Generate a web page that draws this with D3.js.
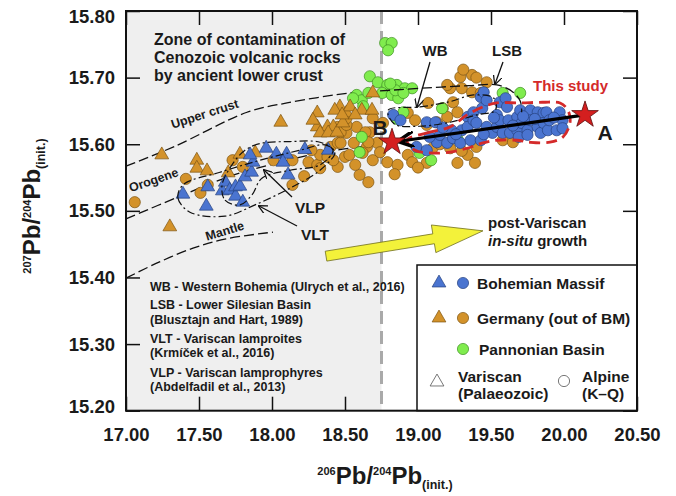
<!DOCTYPE html>
<html>
<head>
<meta charset="utf-8">
<style>
    body { margin: 0; background-color: #FFF; }
    svg text { font-family: "Liberation Sans", Arial, sans-serif; font-weight: bold; fill: #1a1a1a; }
</style>
</head>
<body>
<div id="chartArea"></div>
<script src="https://d3js.org/d3.v7.min.js"></script>
<script>
    /* -----------------------------------
        data
    ----------------------------------- */
    var xTicks = [17.00, 17.50, 18.00, 18.50, 19.00, 19.50, 20.00, 20.50];
    var yTicks = [15.20, 15.30, 15.40, 15.50, 15.60, 15.70, 15.80];

    // Bohemian Massif, Variscan (blue triangles)
    var bohemianVariscan = [[17.39,15.525],[17.55,15.507],[17.56,15.536],[17.66,15.530],[17.68,15.543],[17.71,15.531],
        [17.75,15.522],[17.75,15.536],[17.78,15.537],[17.80,15.513],[17.815,15.551],[17.86,15.558],[17.87,15.573],
        [17.85,15.584],[17.96,15.594],[18.03,15.585],[18.10,15.585],[18.075,15.573],[18.11,15.554],[18.225,15.592],[18.385,15.591]];

    // Germany, Variscan (orange triangles)
    var germanyVariscan = [[17.245,15.584],[17.485,15.576],[17.485,15.564],[17.555,15.56],[17.70,15.557],[17.78,15.585],
        [17.885,15.587],[18.06,15.633],[17.30,15.476],[18.31,15.647],[18.465,15.656],[18.51,15.647],[18.31,15.626],
        [18.38,15.626],[18.42,15.626],[18.33,15.617],[18.385,15.617],[18.445,15.618],[18.485,15.632],[18.43,15.651],
        [18.535,15.656],[18.615,15.651],[18.69,15.677],[18.685,15.651],[18.48,15.644],[18.57,15.644],[18.28,15.636]];

    // Germany, Alpine (orange circles)
    var germanyAlpine = [[17.06,15.513],[17.41,15.548],[17.51,15.527],[17.56,15.539],[17.73,15.576],[17.80,15.566],
        [18.01,15.576],[18.14,15.576],[18.14,15.539],[18.22,15.552],[18.25,15.573],[18.31,15.569],[18.33,15.584],
        [18.38,15.581],[18.40,15.596],[18.45,15.566],[18.45,15.602],[18.33,15.564],[18.27,15.591],
        [18.45,15.626],[18.51,15.617],[18.58,15.626],[18.67,15.618],[18.47,15.602],[18.56,15.602],[18.65,15.596],
        [18.72,15.602],[18.42,15.576],[18.50,15.581],[18.60,15.554],[18.66,15.543],[18.69,15.576],[18.62,15.587],
        [18.53,15.584],[18.47,15.618],[18.51,15.629],[18.64,15.618],[18.57,15.569],
        [19.29,15.701],[19.37,15.704],[19.30,15.684],[19.37,15.678],[19.43,15.677],[19.47,15.693],[19.22,15.684],
        [19.24,15.663],[19.17,15.654],[19.07,15.662],[18.93,15.647],[18.98,15.636],[19.06,15.629],[19.13,15.633],
        [19.20,15.641],[19.27,15.648],[18.69,15.639],[18.76,15.632],[18.66,15.603],[18.74,15.588],[18.79,15.573],
        [18.86,15.569],[18.93,15.584],[18.96,15.573],[19.06,15.572],[19.27,15.572],[19.34,15.584],[19.39,15.572],
        [19.40,15.596],[19.10,15.594],[19.31,15.712],[19.40,15.700],[19.20,15.689],[19.58,15.606],[19.65,15.603],
        [18.51,15.639],[19.15,15.600],[19.22,15.594],[19.30,15.590],[18.84,15.555],[19.00,15.565]];

    // Pannonian Basin, Alpine (green circles)
    var pannonianAlpine = [[18.775,15.752],[18.82,15.752],[18.795,15.741],[18.67,15.702],[18.725,15.693],[18.79,15.689],
        [18.855,15.689],[18.91,15.684],[18.96,15.684],[18.58,15.674],[18.615,15.666],[18.625,15.657],[18.755,15.677],
        [18.82,15.674],[18.865,15.669],[18.845,15.681],[19.58,15.677],[19.70,15.677],[18.855,15.638],[18.615,15.611],
        [18.60,15.588],[19.01,15.587],[19.09,15.576],[19.165,15.654],[19.27,15.608],[18.66,15.677],[18.555,15.669],
        [18.81,15.691],[18.90,15.677],[18.90,15.648]];

    // Bohemian Massif, Alpine (blue circles)
    var bohemianAlpine = [[18.83,15.644],[18.88,15.636],[19.06,15.633],[19.12,15.633],[18.99,15.596],[19.06,15.591],
        [19.13,15.603],[19.08,15.611],[19.15,15.614],[19.20,15.602],[19.23,15.621],[19.24,15.609],[19.29,15.602],
        [19.30,15.621],[19.34,15.641],[19.34,15.626],[19.36,15.606],[19.38,15.648],[19.38,15.636],[19.40,15.632],
        [19.43,15.671],[19.43,15.606],[19.44,15.654],[19.45,15.678],[19.47,15.666],[19.47,15.626],[19.51,15.617],
        [19.54,15.644],[19.54,15.626],[19.56,15.663],[19.56,15.636],[19.58,15.617],[19.60,15.669],[19.61,15.656],
        [19.62,15.636],[19.63,15.617],[19.68,15.641],[19.68,15.621],[19.69,15.611],[19.70,15.651],[19.71,15.632],
        [19.75,15.621],[19.75,15.614],[19.77,15.651],[19.77,15.636],[19.82,15.648],[19.82,15.626],[19.84,15.617],
        [19.86,15.647],[19.86,15.632],[19.88,15.648],[19.89,15.621],[19.90,15.636],[19.95,15.621],[19.97,15.648],
        [19.99,15.636],[19.99,15.624],[19.65,15.628],[19.72,15.642],[19.93,15.640],[19.80,15.638],[19.52,15.640],
        [19.45,15.615],[19.26,15.615],[19.17,15.625]];

    // growth curves and fields
    var upperCrust = [[17.00,15.567],[17.336,15.597],[17.829,15.648],[18.103,15.662],[18.534,15.677],[18.74,15.680]];
    var orogene = [[17.00,15.488],[17.37,15.522],[17.712,15.552],[17.986,15.569],[18.329,15.587],[18.705,15.599]];
    var mantle = [[17.00,15.399],[17.226,15.423],[17.459,15.444],[17.685,15.458],[18.007,15.468]];
    var lsbField = [[18.74,15.680],[19.014,15.684],[19.35,15.688],[19.54,15.689],[19.64,15.680],[19.70,15.665],[19.71,15.648]];
    var wbField = [[18.795,15.651],[19.014,15.656],[19.22,15.664],[19.38,15.674],[19.52,15.669],[19.53,15.651],
        [19.40,15.644],[19.22,15.633],[19.01,15.627],[18.84,15.630]];
    var vltField = [[17.39,15.539],[17.356,15.519],[17.438,15.498],[17.678,15.492],[17.884,15.509],[18.123,15.534],
        [18.329,15.561],[18.431,15.588],[18.363,15.599],[18.192,15.591],[17.918,15.576],[17.644,15.558]];
    var vlpField = [[17.658,15.539],[17.678,15.516],[17.781,15.509],[17.863,15.524],[17.931,15.549],[18.123,15.561],
        [18.329,15.569],[18.418,15.591],[18.329,15.603],[18.123,15.604],[17.918,15.601],[17.815,15.591],[17.726,15.569]];
    var thisStudyField = [[18.925,15.606],[19.062,15.617],[19.219,15.626],[19.336,15.644],[19.445,15.656],[19.541,15.662],
        [19.699,15.662],[19.856,15.663],[19.973,15.662],[20.027,15.651],[20.041,15.632],[19.993,15.611],[19.904,15.603],
        [19.767,15.603],[19.678,15.606],[19.541,15.606],[19.445,15.602],[19.336,15.594],[19.219,15.588],[19.082,15.587],[18.979,15.591]];

    var starA = [20.144, 15.644], starB = [18.822, 15.603];
    var contaminationEdge = 18.75;
    var yellowArrow = [[18.37, 15.432], [19.445, 15.470]];   // tail, tip

    /* -----------------------------------
        initialize
    ----------------------------------- */
    var width = 676, height = 496;
    var pLeft = 126, pRight = 637, pTop = 11, pBottom = 410.7;

    var svg = d3.select("#chartArea").append("svg")
        .attr("width", width)
        .attr("height", height);

    var x = d3.scaleLinear().domain([17, 20.5]).range([pLeft, pRight]);
    var y = d3.scaleLinear().domain([15.2, 15.8]).range([pBottom, pTop]);

    var defs = svg.append("defs");
    defs.append("marker").attr("id", "thin").attr("viewBox", "0 0 10 10").attr("refX", 9).attr("refY", 5)
        .attr("markerWidth", 9).attr("markerHeight", 9).attr("markerUnits", "userSpaceOnUse").attr("orient", "auto")
        .append("path").attr("d", "M0,0 L10,5 L0,10").attr("fill", "none").attr("stroke", "#111").attr("stroke-width", 1.4);
    defs.append("marker").attr("id", "fat").attr("viewBox", "0 0 10 10").attr("refX", 8).attr("refY", 5)
        .attr("markerWidth", 16).attr("markerHeight", 16).attr("markerUnits", "userSpaceOnUse").attr("orient", "auto")
        .append("path").attr("d", "M0,0 L10,5 L0,10").attr("fill", "none").attr("stroke", "#000").attr("stroke-width", 2.2);

    // shaded zone of contamination
    svg.append("rect")
        .attr("x", x(17)).attr("y", pTop)
        .attr("width", x(contaminationEdge) - x(17)).attr("height", pBottom - pTop)
        .attr("fill", "#efefef");
    svg.append("line")
        .attr("x1", x(contaminationEdge)).attr("x2", x(contaminationEdge))
        .attr("y1", pTop).attr("y2", pBottom)
        .attr("stroke", "#a9a9a9").attr("stroke-width", 3).attr("stroke-dasharray", "13,7");

    /* -----------------------------------
        axes (ticks pointing inward)
    ----------------------------------- */
    var fmt = d3.format(".2f");
    var gx = svg.append("g").attr("transform", "translate(0," + pBottom + ")")
        .call(d3.axisBottom(x).tickValues(xTicks).tickFormat(fmt).tickSize(-14).tickPadding(17));
    svg.append("g").attr("transform", "translate(0," + pTop + ")")
        .call(d3.axisTop(x).tickValues(xTicks).tickFormat("").tickSize(-14));
    var gy = svg.append("g").attr("transform", "translate(" + pLeft + ",0)")
        .call(d3.axisLeft(y).tickValues(yTicks).tickFormat(fmt).tickSize(-14).tickPadding(11));
    svg.append("g").attr("transform", "translate(" + pRight + ",0)")
        .call(d3.axisRight(y).tickValues(yTicks).tickFormat("").tickSize(-14));

    svg.selectAll(".domain").remove();
    svg.selectAll(".tick line").attr("stroke", "#111").attr("stroke-width", 1.5);
    svg.selectAll(".tick text").style("font-size", "18.5px").attr("fill", "#1a1a1a")
        .style("font-family", "'Liberation Sans', Arial, sans-serif").style("font-weight", "bold");
    gy.selectAll(".tick text").filter(function(d) { return d > 15.79; }).attr("y", 6);
    gy.selectAll(".tick text").filter(function(d) { return d < 15.21; }).attr("y", -4);

    /* -----------------------------------
        curves and fields
    ----------------------------------- */
    var openLine = d3.line().x(function(d) { return x(d[0]); }).y(function(d) { return y(d[1]); }).curve(d3.curveCatmullRom);
    var closedLine = d3.line().x(function(d) { return x(d[0]); }).y(function(d) { return y(d[1]); }).curve(d3.curveCatmullRomClosed);

    var curves = svg.append("g").attr("fill", "none").attr("stroke", "#111").attr("stroke-width", 1.3);
    curves.append("path").attr("d", openLine(upperCrust)).attr("stroke-dasharray", "10,4");
    curves.append("path").attr("d", openLine(orogene)).attr("stroke-dasharray", "10,4");
    curves.append("path").attr("d", openLine(mantle)).attr("stroke-dasharray", "10,4");

    /* -----------------------------------
        points
    ----------------------------------- */
    var blue = "#4a74d0", blueS = "#26427f",
        orange = "#d3922a", orangeS = "#7c5412",
        green = "#80ec4e", greenS = "#3d8f22";

    function drawCircles(data, fill, stroke) {
        svg.append("g").selectAll("circle").data(data).enter().append("circle")
            .attr("cx", function(d) { return x(d[0]); })
            .attr("cy", function(d) { return y(d[1]); })
            .attr("r", 5.6)
            .attr("fill", fill).attr("stroke", stroke).attr("stroke-width", 0.7);
    }
    var tri = d3.symbol().type(d3.symbolTriangle).size(82);
    function drawTriangles(data, fill, stroke) {
        svg.append("g").selectAll("path").data(data).enter().append("path")
            .attr("d", tri)
            .attr("transform", function(d) { return "translate(" + x(d[0]) + "," + y(d[1]) + ")"; })
            .attr("fill", fill).attr("stroke", stroke).attr("stroke-width", 0.7);
    }

    drawCircles(germanyAlpine, orange, orangeS);
    drawCircles(pannonianAlpine, green, greenS);
    drawCircles(bohemianAlpine, blue, blueS);
    drawTriangles(germanyVariscan, orange, orangeS);
    drawTriangles(bohemianVariscan, blue, blueS);

    // outlined fields drawn over the points
    var fields = svg.append("g").attr("fill", "none");
    fields.append("path").attr("d", closedLine(vltField)).attr("stroke", "#111").attr("stroke-width", 1.2).attr("stroke-dasharray", "8,3,2,3");
    fields.append("path").attr("d", closedLine(vlpField)).attr("stroke", "#111").attr("stroke-width", 1.2).attr("stroke-dasharray", "8,3,2,3");
    fields.append("path").attr("d", closedLine(wbField)).attr("stroke", "#111").attr("stroke-width", 1.2).attr("stroke-dasharray", "8,3,2,3");
    fields.append("path").attr("d", openLine(lsbField)).attr("stroke", "#111").attr("stroke-width", 1.3).attr("stroke-dasharray", "10,4");
    fields.append("path").attr("d", closedLine(thisStudyField)).attr("stroke", "#d42a2a").attr("stroke-width", 2.8).attr("stroke-dasharray", "11,6");

    /* -----------------------------------
        A -> B arrow and stars
    ----------------------------------- */
    var ax = x(starA[0]), ay = y(starA[1]), bx = x(starB[0]), by = y(starB[1]);
    var ang = Math.atan2(by - ay, bx - ax);
    svg.append("line")
        .attr("x1", ax).attr("y1", ay)
        .attr("x2", bx - 9 * Math.cos(ang)).attr("y2", by - 9 * Math.sin(ang))
        .attr("stroke", "#000").attr("stroke-width", 3.2)
        .attr("marker-end", "url(#fat)");

    var star = d3.symbol().type(d3.symbolStar).size(220);
    svg.selectAll(".star").data([starA, starB]).enter().append("path")
        .attr("class", "star")
        .attr("d", star)
        .attr("transform", function(d) { return "translate(" + x(d[0]) + "," + y(d[1]) + ")"; })
        .attr("fill", "#d41f1f").attr("stroke", "#5a0c0c").attr("stroke-width", 0.8);

    svg.append("text").attr("x", 380).attr("y", 135).attr("text-anchor", "middle").style("font-size", "21px").text("B");
    svg.append("text").attr("x", 605).attr("y", 140).attr("text-anchor", "middle").style("font-size", "21px").text("A");
    svg.append("text").attr("x", 533).attr("y", 91).style("font-size", "15px").style("fill", "#d42a2a").text("This study");

    /* -----------------------------------
        yellow growth arrow
    ----------------------------------- */
    var p0 = [x(yellowArrow[0][0]), y(yellowArrow[0][1])], p1 = [x(yellowArrow[1][0]), y(yellowArrow[1][1])];
    var dx = p1[0] - p0[0], dy = p1[1] - p0[1], len = Math.sqrt(dx * dx + dy * dy);
    var ux = dx / len, uy = dy / len, nx = -uy, ny = ux;
    var hw = 5, hh = 14, hl = 50;
    var bsx = p1[0] - ux * hl, bsy = p1[1] - uy * hl;
    var arrowPts = [
        [p0[0] + nx * hw, p0[1] + ny * hw], [bsx + nx * hw, bsy + ny * hw], [bsx + nx * hh, bsy + ny * hh],
        p1,
        [bsx - nx * hh, bsy - ny * hh], [bsx - nx * hw, bsy - ny * hw], [p0[0] - nx * hw, p0[1] - ny * hw]];
    svg.append("polygon")
        .attr("points", arrowPts.map(function(p) { return p.join(","); }).join(" "))
        .attr("fill", "#f3f23a").attr("stroke", "#6f6d1c").attr("stroke-width", 0.8);

    svg.append("text").attr("x", 488).attr("y", 228).style("font-size", "15px").text("post-Variscan");
    var t2 = svg.append("text").attr("x", 488).attr("y", 246).style("font-size", "15px");
    t2.append("tspan").style("font-style", "italic").text("in-situ");
    t2.append("tspan").text(" growth");

    /* -----------------------------------
        labels in the plot
    ----------------------------------- */
    function rotLabel(txt, cx, cy, deg) {
        svg.append("text").attr("transform", "translate(" + cx + "," + cy + ") rotate(" + deg + ")")
            .attr("text-anchor", "middle").style("font-size", "12.5px").text(txt);
    }
    rotLabel("Upper crust", 206, 118, -18);
    rotLabel("Orogene", 155, 184, -19);
    rotLabel("Mantle", 226, 235, -17);

    var zone = ["Zone of contamination of", "Cenozoic volcanic rocks", "by ancient lower crust"];
    svg.append("g").selectAll("text").data(zone).enter().append("text")
        .attr("x", 154).attr("y", function(d, i) { return 45 + i * 18; })
        .style("font-size", "16px").text(function(d) { return d; });

    var refs = [["WB - Western Bohemia (Ulrych et al., 2016)", 291], ["LSB - Lower Silesian Basin", 309],
        ["(Blusztajn and Hart, 1989)", 324], ["VLT - Variscan lamproites", 343], ["(Krmíček et al., 2016)", 357],
        ["VLP - Variscan lamprophyres", 377], ["(Abdelfadil et al., 2013)", 391]];
    svg.append("g").selectAll("text").data(refs).enter().append("text")
        .attr("x", 150).attr("y", function(d) { return d[1]; })
        .style("font-size", "12.5px").text(function(d) { return d[0]; });

    svg.append("text").attr("x", 435).attr("y", 56).attr("text-anchor", "middle").style("font-size", "15px").text("WB");
    svg.append("text").attr("x", 507).attr("y", 56).attr("text-anchor", "middle").style("font-size", "15px").text("LSB");
    svg.append("text").attr("x", 310).attr("y", 213).attr("text-anchor", "middle").style("font-size", "15.5px").text("VLP");
    svg.append("text").attr("x", 315).attr("y", 240).attr("text-anchor", "middle").style("font-size", "15.5px").text("VLT");

    var pointers = [[430, 62, 417, 107], [503, 62, 495, 84], [292, 197, 264, 170], [297, 226, 259, 206]];
    svg.append("g").selectAll("line").data(pointers).enter().append("line")
        .attr("x1", function(d) { return d[0]; }).attr("y1", function(d) { return d[1]; })
        .attr("x2", function(d) { return d[2]; }).attr("y2", function(d) { return d[3]; })
        .attr("stroke", "#111").attr("stroke-width", 1.3).attr("marker-end", "url(#thin)");

    /* -----------------------------------
        legend
    ----------------------------------- */
    var lg = svg.append("g");
    lg.append("rect").attr("x", 417).attr("y", 265).attr("width", pRight - 417).attr("height", pBottom - 265)
        .attr("fill", "#fff").attr("stroke", "#111").attr("stroke-width", 1.5);
    var legendRows = [
        {label: "Bohemian Massif", fill: blue, stroke: blueS, tri: true, y: 283, tx: 477},
        {label: "Germany (out of BM)", fill: orange, stroke: orangeS, tri: true, y: 318, tx: 477},
        {label: "Pannonian Basin", fill: green, stroke: greenS, tri: false, y: 349, tx: 479}];
    legendRows.forEach(function(r) {
        if (r.tri) lg.append("path").attr("d", tri).attr("transform", "translate(439," + r.y + ")")
            .attr("fill", r.fill).attr("stroke", r.stroke).attr("stroke-width", 0.7);
        lg.append("circle").attr("cx", 463).attr("cy", r.y).attr("r", 5.6)
            .attr("fill", r.fill).attr("stroke", r.stroke).attr("stroke-width", 0.7);
        lg.append("text").attr("x", r.tx).attr("y", r.y + 5.5).style("font-size", "15.5px").text(r.label);
    });
    lg.append("path").attr("d", tri).attr("transform", "translate(437,382)")
        .attr("fill", "#fff").attr("stroke", "#555").attr("stroke-width", 0.8);
    lg.append("circle").attr("cx", 564).attr("cy", 381).attr("r", 5.6)
        .attr("fill", "#fff").attr("stroke", "#555").attr("stroke-width", 0.8);
    lg.append("text").attr("x", 458).attr("y", 382).style("font-size", "15.5px").text("Variscan");
    lg.append("text").attr("x", 458).attr("y", 399).style("font-size", "15.5px").text("(Palaeozoic)");
    lg.append("text").attr("x", 582).attr("y", 382).style("font-size", "15.5px").text("Alpine");
    lg.append("text").attr("x", 582).attr("y", 399).style("font-size", "15.5px").text("(K\u2013Q)");

    // plot frame
    svg.append("rect").attr("x", pLeft).attr("y", pTop).attr("width", pRight - pLeft).attr("height", pBottom - pTop)
        .attr("fill", "none").attr("stroke", "#111").attr("stroke-width", 2);

    /* -----------------------------------
        axis titles
    ----------------------------------- */
    function isoTitle(sel, a, b) {
        sel.append("tspan").style("font-size", "11px").attr("dy", -9).text(a);
        sel.append("tspan").style("font-size", "24px").attr("dy", 9).text("Pb/");
        sel.append("tspan").style("font-size", "11px").attr("dy", -9).text(b);
        sel.append("tspan").style("font-size", "24px").attr("dy", 9).text("Pb");
        sel.append("tspan").style("font-size", "12.5px").attr("dy", 5).text("(init.)");
    }
    var xt = svg.append("text").attr("x", 385).attr("y", 484).attr("text-anchor", "middle");
    isoTitle(xt, "206", "204");
    var yt = svg.append("text").attr("transform", "translate(40,206) rotate(-90)").attr("text-anchor", "middle");
    isoTitle(yt, "207", "204");
</script>
</body>
</html>
